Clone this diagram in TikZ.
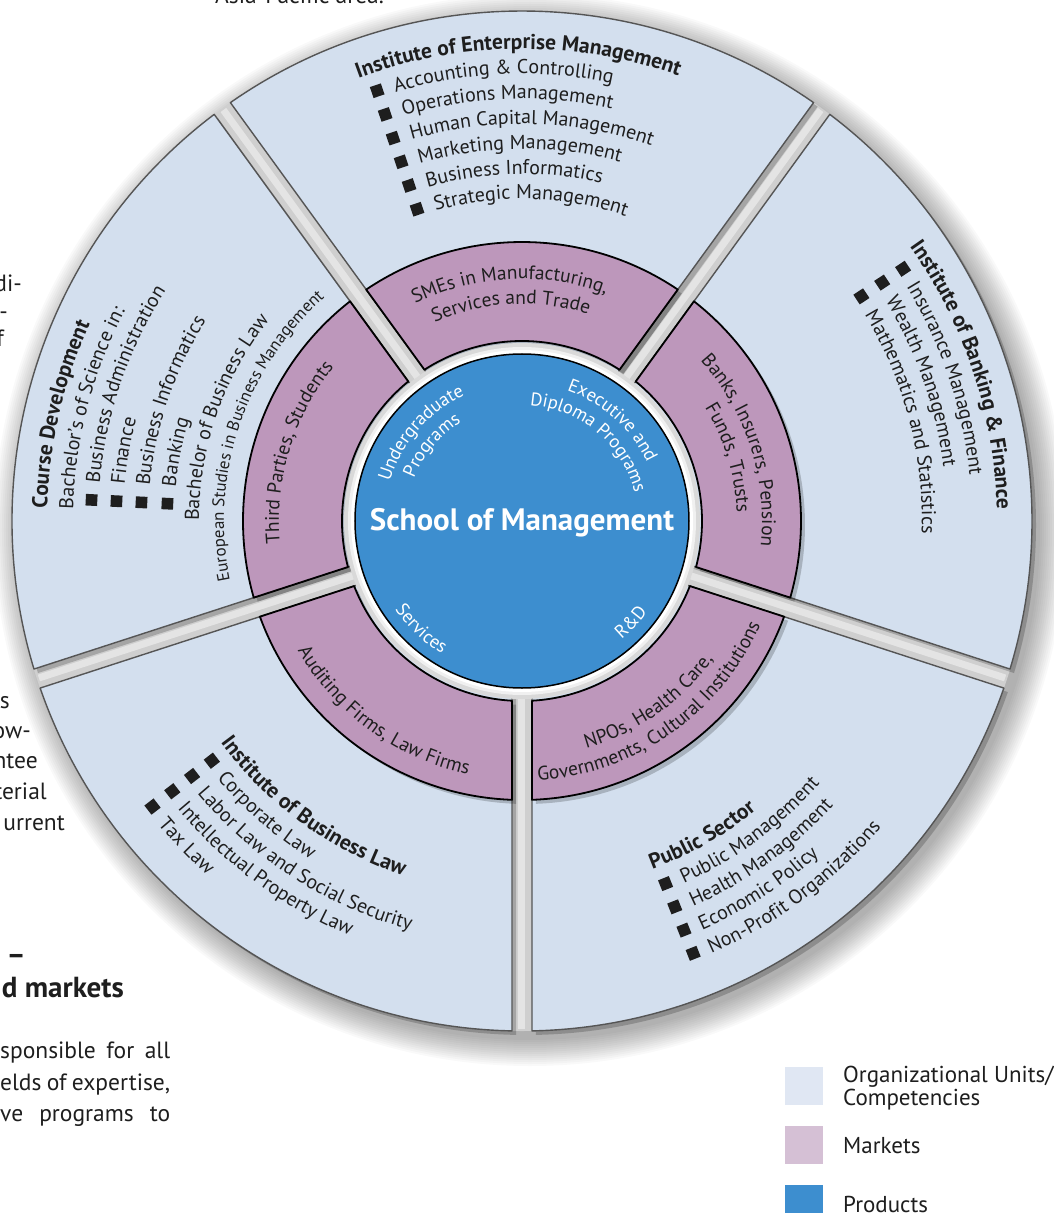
\documentclass[tikz,border=0pt]{standalone}
\usepackage{fontspec}
\setmainfont{PT Sans}
\usetikzlibrary{decorations.text}
\definecolor{orgblue}{HTML}{D3DFEE}
\definecolor{mauve}{HTML}{BD97BB}
\definecolor{prodblue}{HTML}{3D8ECF}
\definecolor{legorg}{HTML}{E0E7F3}
\definecolor{legmkt}{HTML}{D5C0D5}
\definecolor{edgegray}{HTML}{555555}
\definecolor{txt}{HTML}{1E1E1E}
\newcommand\fitem{\fontsize{20}{23}\selectfont}
\newcommand\fhead{\fontsize{21.5}{25}\selectfont\bfseries}
\newcommand\fmkt{\fontsize{19.5}{23}\selectfont}
\newcommand\fprod{\fontsize{18.5}{21}\selectfont}
\newcommand\fsmall{\fontsize{17}{20}\selectfont}
\newcommand\fpage{\fontsize{23.5}{27}\selectfont}
\newcommand\flegend{\fontsize{23}{27}\selectfont}
% text along an arc: #2 radius, #3 start angle, #4 end angle, #5 text
\newcommand\arctext[5][left]{%
  \path[decorate,decoration={text along path,text align=#1,text={#5}}]
    (#3:#2) arc[start angle=#3,end angle=#4,radius=#2];}
% clockwise item with bullet (tops outward)
\newcommand\cwitem[3]{%
  \pgfmathsetmacro\myS{#2-17/#1*57.2958}%
  \pgfmathsetmacro\myE{\myS-80}%
  \pgfmathsetmacro\myR{#1+7}%
  \fill[txt,shift={(#2:\myR)},rotate=#2] (-5.8,-5.8) rectangle (5.8,5.8);
  \arctext{#1}{\myS}{\myE}{|\color{txt}\fitem|#3}}
% counter-clockwise item with bullet (tops inward)
\newcommand\ccwitem[3]{%
  \pgfmathsetmacro\myS{#2+17/#1*57.2958}%
  \pgfmathsetmacro\myE{\myS+80}%
  \pgfmathsetmacro\myR{#1-7}%
  \fill[txt,shift={(#2:\myR)},rotate=#2] (-5.8,-5.8) rectangle (5.8,5.8);
  \arctext{#1}{\myS}{\myE}{|\color{txt}\fitem|#3}}
% annular segment with parallel gaps: #1 style, #2 g1, #3 g2, #4 ri, #5 ro
\newcommand\seg[5]{%
  \pgfmathsetmacro\aA{#2+asin(10/#5)}%
  \pgfmathsetmacro\aB{#3-asin(10/#5)}%
  \pgfmathsetmacro\aC{#3-asin(10/#4)}%
  \pgfmathsetmacro\aD{#2+asin(10/#4)}%
  \path[#1] (\aA:#5) arc[start angle=\aA,end angle=\aB,radius=#5]
    -- (\aC:#4) arc[start angle=\aC,end angle=\aD,radius=#4] -- cycle;}
\begin{document}
\begin{tikzpicture}[x=1pt,y=1pt,
  orgseg/.style={fill=orgblue,draw=edgegray,line width=1.4pt,line join=round},
  mktseg/.style={fill=mauve,draw=black,line width=1.8pt,line join=round},
  segshadow/.style={fill=black,fill opacity=0.2,shift={(4,-4)}},
  gapshine/.style={white,opacity=0.45,line width=7pt},
  legbox/.style={minimum width=38pt,minimum height=38pt,inner sep=0pt,anchor=north west},
  legtext/.style={font=\flegend,text=txt,anchor=base west,inner sep=0pt},
  pagetext/.style={font=\fpage,text=txt,inner sep=0pt,anchor=base east},
  pagehead/.style={font=\fontsize{29}{34}\selectfont\bfseries,text=txt,inner sep=0pt,anchor=base east}]
\useasboundingbox (-522,521) rectangle (532,-692);
\clip (-522,521) rectangle (532,-692);
\fill[white] (-522,521) rectangle (532,-692);
% overall soft shadow
\foreach \i in {0,...,13} {\fill[black,opacity=0.025] (8,-9) circle ({510+2*\i});}
% gray base disk (gaps)
\fill[gray!38] (0,0) circle (510);
\foreach \g in {-18,54,126,198,270} {\draw[gapshine] (\g:172) -- (\g:508);}
% outer segments
\foreach \g in {-18,54,126,198,270} {\seg{segshadow}{\g}{\g+72}{172}{510}}
\foreach \g in {-18,54,126,198,270} {\seg{orgseg}{\g}{\g+72}{172}{510}}
% market segments
\foreach \g in {-18,54,126,198,270} {\seg{segshadow}{\g}{\g+72}{180}{279}}
\foreach \g in {-18,54,126,198,270} {\seg{mktseg}{\g}{\g+72}{180}{279}}
% bevel ring and product circle
\fill[gray!30] (0,0) circle (178);
\fill[gray!12] (0,0) circle (174);
\fill[white] (0,0) circle (171);
\filldraw[fill=prodblue,draw=black,line width=1.5pt] (0,0) circle (167);
\node[font=\fontsize{31}{36}\selectfont\bfseries,text=white,inner sep=0pt] (som) at (0,-2) {School of Management};
% product labels
\arctext[center]{138}{179}{99}{|\color{white}\fprod|Undergraduate}
\arctext[center]{116}{180}{100}{|\color{white}\fprod|Programs}
\arctext[center]{138}{88}{8}{|\color{white}\fprod|Executive and}
\arctext[center]{116}{90}{10}{|\color{white}\fprod|Diploma Programs}
\arctext[center]{155}{187}{267}{|\color{white}\fprod|Services}
\arctext[center]{155}{277}{357}{|\color{white}\fprod|R{\&}D}
% market labels
\arctext[center]{242}{133}{53}{|\color{txt}\fmkt|SMEs in Manufacturing,}
\arctext[center]{217}{133}{53}{|\color{txt}\fmkt|Services and Trade}
\arctext[center]{240}{58}{-22}{|\color{txt}\fmkt|Banks, Insurers, Pension}
\arctext[center]{215}{57}{-23}{|\color{txt}\fmkt|Funds, Trusts}
\arctext[center]{236}{255}{355}{|\color{txt}\fmkt|NPOs, Health Care,}
\arctext[center]{260}{250}{360}{|\color{txt}\fmkt|Governments, Cultural Institutions}
\arctext[center]{259}{189}{279}{|\color{txt}\fmkt|Auditing Firms, Law Firms}
\arctext[center]{243}{208}{118}{|\color{txt}\fmkt|Third Parties, Students}
% top segment
\arctext{472}{110.3}{30}{|\color{txt}\fhead|Institute of Enterprise Management}
\cwitem{447}{108.6}{Accounting {\&} Controlling}
\cwitem{422}{108.6}{Operations Management}
\cwitem{397}{108.6}{Human Capital Management}
\cwitem{372}{108.6}{Marketing Management}
\cwitem{347}{108.6}{Business Informatics}
\cwitem{322}{108.6}{Strategic Management}
% right segment
\arctext{475}{35.3}{-45}{|\color{txt}\fhead|Institute of Banking {\&} Finance}
\cwitem{450}{33.5}{Insurance Management}
\cwitem{425}{33.5}{Wealth Management}
\cwitem{400}{33.5}{Mathematics and Statistics}
% left segment
\arctext{475}{178.5}{100}{|\color{txt}\fhead|Course Development}
\arctext{449}{178.5}{100}{|\color{txt}\fitem|Bachelor’s of Science in:}
\cwitem{424}{177.2}{Business Administration}
\cwitem{399}{177.2}{Finance}
\cwitem{374}{177.2}{Business Informatics}
\cwitem{348}{177.2}{Banking}
\arctext{323}{180}{100}{|\color{txt}\fitem|Bachelor of Business Law}
\arctext{298}{191.5}{110}{|\color{txt}\fsmall|European Studies in Business Management}
% bottom-left segment
\arctext{374}{216.3}{300}{|\color{txt}\fhead|Institute of Business Law}
\ccwitem{399}{217.7}{Corporate Law}
\ccwitem{424}{217.7}{Labor Law and Social Security}
\ccwitem{449}{217.7}{Intellectual Property Law}
\ccwitem{474}{217.7}{Tax Law}
% bottom-right segment
\arctext{372}{290.5}{370}{|\color{txt}\fhead|Public Sector}
\ccwitem{397}{291.6}{Public Management}
\ccwitem{422}{291.6}{Health Management}
\ccwitem{447}{291.6}{Economic Policy}
\ccwitem{472}{291.6}{Non-Profit Organizations}
% legend
\node[legbox,fill=legorg] (lo) at (263,-546) {};
\node[legbox,fill=legmkt] (lm) at (263,-605) {};
\node[legbox,fill=prodblue] (lp) at (263,-664) {};
\node[legtext] (to1) at (321,-561) {Organizational Units/};
\node[legtext] (to2) at (321,-584) {Competencies};
\node[legtext] (tm) at (321,-632) {Markets};
\node[legtext] (tp) at (321,-691) {Products};
% surrounding page text (cut off)
\node[font=\fpage,text=txt,inner sep=0pt,anchor=base west] (p0) at (-307,517) {Asia-Pacific area.};
\node[pagetext] (p1) at (-500,229) {di-};
\node[pagetext] (p2) at (-514,201) {-};
\node[pagetext] (p3) at (-518,174) {f};
\node[pagetext] (p4) at (-512,-187) {s};
\node[pagetext] (p5) at (-491,-217) {ow-};
\node[pagetext] (p6) at (-484,-247) {ntee};
\node[pagetext] (p7) at (-475,-278) {terial};
\node[pagetext] (p8) at (-457,-309) {urrent};
\node[pagehead] (h1) at (-496,-443) {–};
\node[pagehead] (h2) at (-398,-476) {d markets};
\node[font=\fpage,text=txt,inner sep=0pt,anchor=base west] (q1) at (-522,-537) {\makebox[170pt][s]{sponsible for all}};
\node[font=\fpage,text=txt,inner sep=0pt,anchor=base west] (q2) at (-522,-569) {\makebox[170pt][s]{elds of expertise,}};
\node[font=\fpage,text=txt,inner sep=0pt,anchor=base west] (q3) at (-522,-600) {\makebox[170pt][s]{ve programs to}};
\end{tikzpicture}
\end{document}
